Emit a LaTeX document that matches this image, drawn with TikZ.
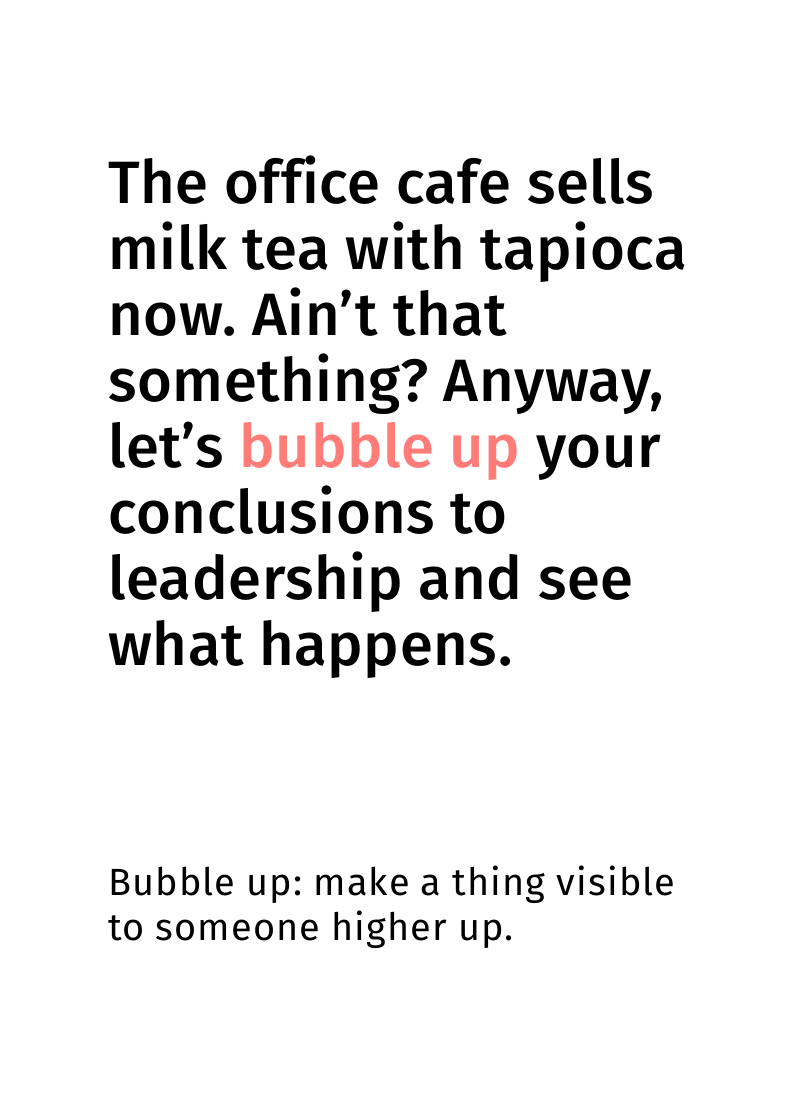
\documentclass[tikz,border=0pt]{standalone}
\usepackage{fontspec}
\setmainfont{Fira Sans}[BoldFont={Fira Sans Medium},BoldFeatures={LetterSpace=1},Ligatures=NoCommon]
\newfontfamily\smallfont{Fira Sans}[LetterSpace=3,Ligatures=NoCommon]
\definecolor{bubblepink}{HTML}{FF7C78}
\begin{document}
\frenchspacing
\begin{tikzpicture}[x=1bp,y=-1bp,
  bigline/.style={anchor=base west,inner sep=0pt,font=\fontsize{60}{66}\selectfont\bfseries\frenchspacing},
  smallline/.style={anchor=base west,inner sep=0pt,font=\fontsize{38}{45}\selectfont\smallfont\frenchspacing}]
\useasboundingbox[fill=white] (0,0) rectangle (795,1095);
\node[bigline] (l1) at (108,203) {The office cafe sells};
\node[bigline] (l2) at (108,269) {milk tea with tapioca};
\node[bigline] (l3) at (108,335) {now. Ain’t that};
\node[bigline] (l4) at (108,401) {something? Anyway,};
\node[bigline] (l5) at (108,467) {let’s \textcolor{bubblepink}{bubble up} your};
\node[bigline] (l6) at (108,533) {conclusions to};
\node[bigline] (l7) at (108,599) {leadership and see};
\node[bigline] (l8) at (108,665) {what happens.};
\node[smallline] (s1) at (108,895) {Bubble up: make a thing visible};
\node[smallline] (s2) at (108,940) {to someone higher up.};
\end{tikzpicture}
\end{document}
